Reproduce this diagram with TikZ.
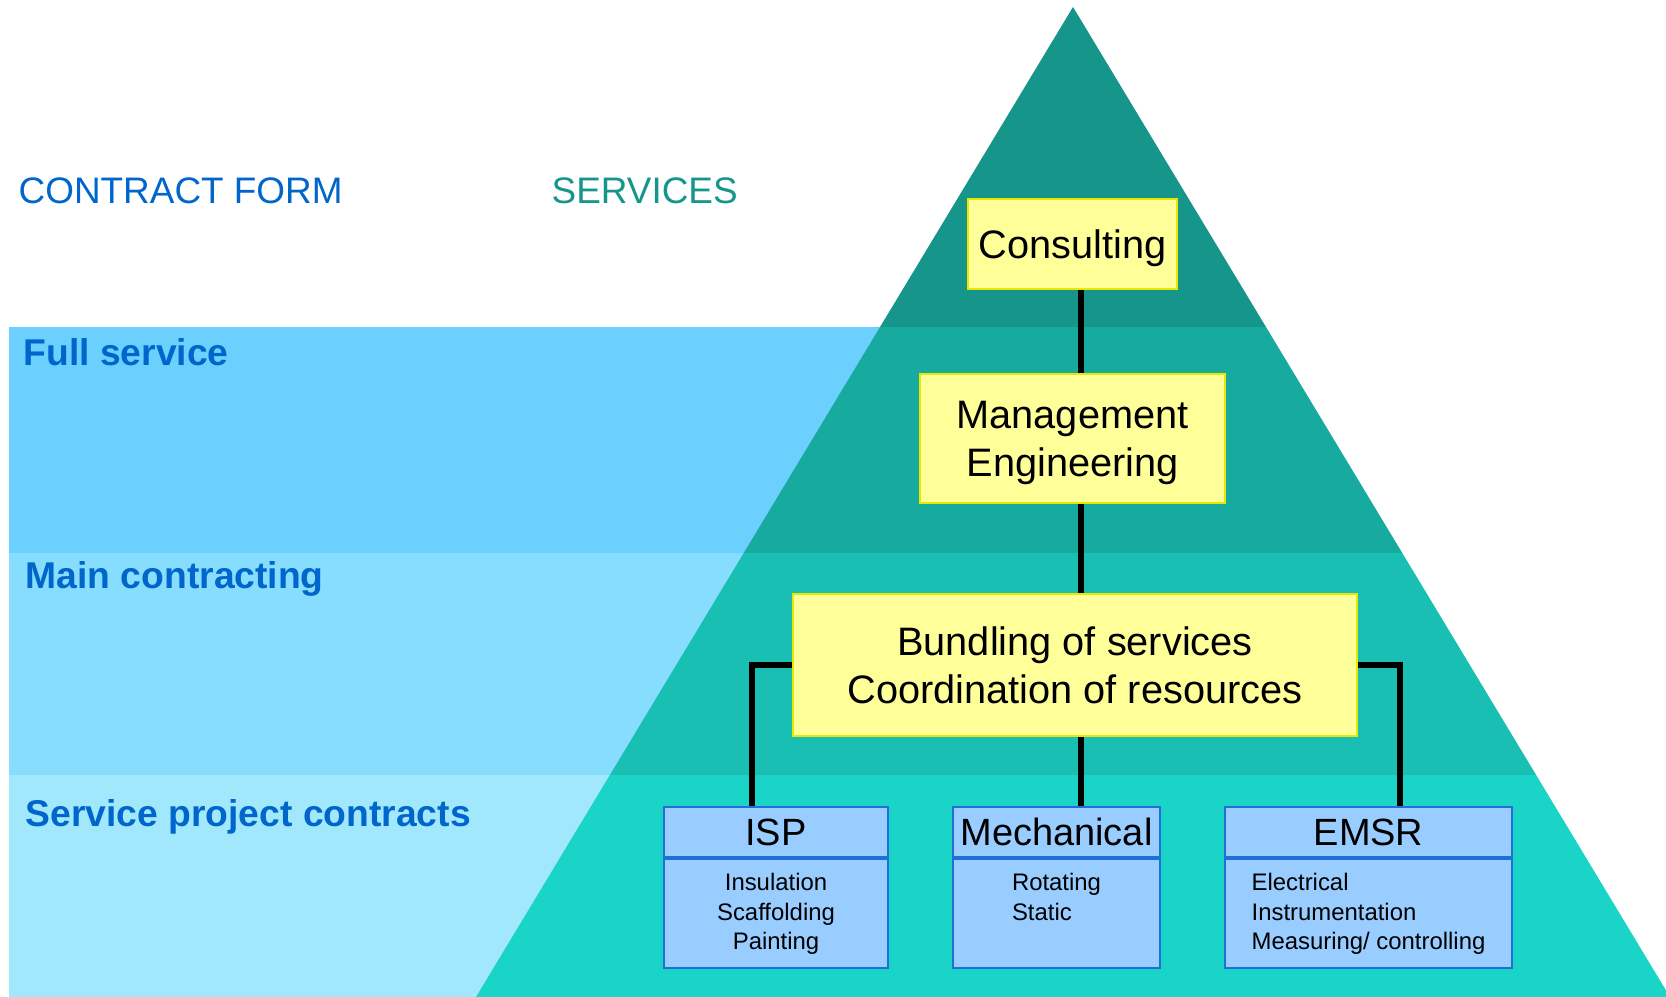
\documentclass[tikz,border=0pt]{standalone}
\usepackage{fontspec}
\setmainfont{Liberation Sans}
\usetikzlibrary{positioning}
\definecolor{tealA}{HTML}{16968A}
\definecolor{tealB}{HTML}{17AB9F}
\definecolor{tealC}{HTML}{1ABFB3}
\definecolor{tealD}{HTML}{1AD4C8}
\definecolor{skyA}{HTML}{6BD0FE}
\definecolor{skyB}{HTML}{87DDFD}
\definecolor{skyC}{HTML}{A2E8FD}
\definecolor{formblue}{HTML}{0066CC}
\definecolor{boxyellow}{HTML}{FFFF99}
\definecolor{boxline}{HTML}{E8E800}
\definecolor{subblue}{HTML}{99CCFF}
\definecolor{subline}{HTML}{1F6FD6}
\begin{document}
\begin{tikzpicture}[
      service/.style = {shape=rectangle, draw=boxline, fill=boxyellow,
        line width=0.6pt, align=center, inner sep=0pt,
        font=\fontsize{11.3}{13.6}\selectfont
      },
      trade/.style = {shape=rectangle, draw=subline, fill=subblue,
        line width=0.5pt, inner sep=0pt, minimum height=0.5cm,
        font=\fontsize{10.8}{13}\selectfont
      },
      tradebody/.style = {shape=rectangle, draw=subline, fill=subblue,
        line width=0.5pt, inner sep=0pt, minimum height=1.09cm, anchor=north
      },
      tradetext/.style = {inner sep=0pt, anchor=north,
        font=\fontsize{6.8}{8.3}\selectfont},
      heading/.style = {inner sep=0pt, anchor=base west,
        font=\fontsize{10.5}{12.6}\selectfont},
      band/.style = {inner sep=0pt, anchor=base west, text=formblue,
        font=\bfseries\fontsize{10.6}{12.7}\selectfont},
      conn/.style = {line width=1.7pt}
    ]
    \useasboundingbox (0,0) rectangle (16.66,9.97);

    %franjas de contrato
    \fill[skyA] (0.09,4.44) rectangle (10.73,6.70);
    \fill[skyB] (0.09,2.22) rectangle (10.73,4.44);
    \fill[skyC] (0.09,0) rectangle (10.73,2.22);

    %piramide
    \begin{scope}
      \clip (0,0) rectangle (16.66,9.97);
      \clip (10.73,9.90) -- (16.70,0) -- (4.76,0) -- cycle;
      \fill[tealA] (0,6.70) rectangle (16.66,9.97);
      \fill[tealB] (0,4.44) rectangle (16.66,6.70);
      \fill[tealC] (0,2.22) rectangle (16.66,4.44);
      \fill[tealD] (0,0) rectangle (16.66,2.22);
    \end{scope}

    %titulos
    \node[heading, text=formblue] (form) at (0.18,7.93) {CONTRACT FORM};
    \node[heading, text=tealA] (serv) at (5.51,7.93) {SERVICES};
    \node[band] (full) at (0.23,6.31) {Full service};
    \node[band] (main) at (0.25,4.08) {Main contracting};
    \node[band] (proj) at (0.25,1.70) {Service project contracts};

    %servicios
    \node[service, text depth=0pt, minimum width=2.09cm, minimum height=0.90cm] (cons) at (10.725,7.53) {Consulting};
    \node[service, text depth=0pt, minimum width=3.05cm, minimum height=1.29cm] (mgmt) at (10.725,5.585) {Management\\Engineering};
    \node[service, minimum width=5.64cm, minimum height=1.42cm] (bund) at (10.75,3.32) {Bundling of services\\Coordination of resources};

    %contratos de proyecto
    \node[trade, minimum width=2.24cm] (isp) at (7.76,1.65) {ISP};
    \node[tradebody, minimum width=2.24cm] (isp-b) at (isp.south) {};
    \node[tradetext, align=center, below=0.15cm of isp-b.north] {Insulation\\Scaffolding\\Painting};

    \node[trade, minimum width=2.07cm] (mech) at (10.565,1.65) {Mechanical};
    \node[tradebody, minimum width=2.07cm] (mech-b) at (mech.south) {};
    \node[tradetext, align=left, below=0.15cm of mech-b.north] {Rotating\\Static};

    \node[trade, minimum width=2.87cm] (emsr) at (13.685,1.65) {EMSR};
    \node[tradebody, minimum width=2.87cm] (emsr-b) at (emsr.south) {};
    \node[tradetext, align=left, below=0.15cm of emsr-b.north] {Electrical\\Instrumentation\\Measuring/ controlling};

    %conectores
    \coordinate (trunk) at (10.81,0);
    \coordinate (leftdrop) at (7.52,0);
    \coordinate (rightdrop) at (14.00,0);
    \draw[conn] (cons.south -| trunk) -- (mgmt.north -| trunk);
    \draw[conn] (mgmt.south -| trunk) -- (bund.north -| trunk);
    \draw[conn] (bund.south -| trunk) -- (mech.north -| trunk);
    \draw[conn] (bund.west) -| (isp.north -| leftdrop);
    \draw[conn] (bund.east) -| (emsr.north -| rightdrop);
\end{tikzpicture}
\end{document}
